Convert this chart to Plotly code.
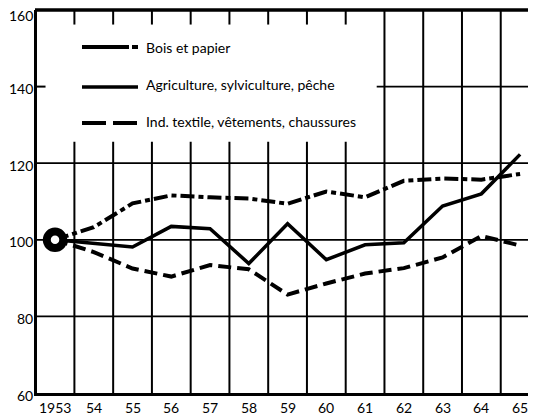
import plotly.graph_objects as go

years = list(range(1953, 1966))
year_labels = ["1953", "54", "55", "56", "57", "58", "59", "60", "61", "62", "63", "64", "65"]

bois = [100, 103.3, 109.5, 111.6, 111.1, 110.8, 109.4, 112.6, 111.1, 115.4, 116.0, 115.7, 117.2]
agri = [100, 99.1, 98.1, 103.5, 102.9, 93.8, 104.2, 94.8, 98.7, 99.2, 108.8, 112.0, 122.3]
textile = [100, 96.8, 92.5, 90.4, 93.4, 92.3, 85.7, 88.6, 91.2, 92.6, 95.4, 101.0, 98.5]

names = ["Bois et papier", "Agriculture, sylviculture, pêche", "Ind. textile, vêtements, chaussures"]

y_ticks = [60, 80, 100, 120, 140, 160]

FONT = "Lato"
XMIN, XMAX = 1952.535, 1965.41
OFF = 8  # page body margin
W, H = 536 - OFF, 416 - OFF
ML, MR, MT, MB = 37 - OFF, 0, 10 - OFF, 416 - 393
PW, PH = W - ML - MR, H - MT - MB

fig = go.Figure()

bois_dash = "14px,4px,5px,4px"
tex_dash = "13px,6px"

fig.add_trace(go.Scatter(x=years, y=bois, mode="lines",
                         line=dict(color="black", width=4, dash=bois_dash), name=names[0]))
fig.add_trace(go.Scatter(x=years, y=agri, mode="lines",
                         line=dict(color="black", width=3.5), name=names[1]))
fig.add_trace(go.Scatter(x=years, y=textile, mode="lines",
                         line=dict(color="black", width=4, dash=tex_dash), name=names[2]))
fig.add_trace(go.Scatter(x=[years[0]], y=[agri[0]], mode="markers",
                         marker=dict(size=16.5, color="white", line=dict(color="black", width=8))))

shapes = []
# vertical grid lines between years
for i in range(len(years) - 1):
    xm = years[i] + 0.5
    if xm < 1961:
        shapes.append(dict(type="line", xref="x", yref="y", x0=xm, x1=xm, y0=156.2, y1=160,
                           line=dict(color="black", width=2), layer="below"))
        shapes.append(dict(type="line", xref="x", yref="y", x0=xm, x1=xm, y0=60, y1=125.6,
                           line=dict(color="black", width=2), layer="below"))
    else:
        shapes.append(dict(type="line", xref="x", yref="y", x0=xm, x1=xm, y0=60, y1=160,
                           line=dict(color="black", width=2), layer="below"))
# horizontal grid lines
for yv in [80, 100, 120]:
    shapes.append(dict(type="line", xref="x", yref="y", x0=XMIN, x1=XMAX, y0=yv, y1=yv,
                       line=dict(color="black", width=1.8), layer="below"))
shapes.append(dict(type="line", xref="x", yref="y", x0=1961.3, x1=XMAX, y0=140, y1=140,
                   line=dict(color="black", width=1.8), layer="below"))
shapes.append(dict(type="line", xref="x", yref="y", x0=XMIN, x1=XMIN + 0.22, y0=140, y1=140,
                   line=dict(color="black", width=2), layer="below"))
# top border
shapes.append(dict(type="line", xref="paper", yref="paper", x0=-0.004, x1=1, y0=1, y1=1,
                   line=dict(color="black", width=3.5), layer="above"))


def py(page_y):
    return 1 - (page_y - OFF - MT) / PH


def px_x(page_x):
    return (page_x - OFF - ML) / PW


annotations = []
# manual legend
leg_rows = [47, 87, 123]
txt_rows = [47, 85, 121]
leg_dash = ["47px,3px,6px,20px", "solid", "24px,7px"]
leg_w = [4, 3.5, 4]
for k in range(3):
    shapes.append(dict(type="line", xref="paper", yref="paper",
                       x0=px_x(82), x1=px_x(138), y0=py(leg_rows[k]), y1=py(leg_rows[k]),
                       line=dict(color="black", width=leg_w[k], dash=leg_dash[k])))
    annotations.append(dict(text=names[k], xref="paper", yref="paper",
                            x=px_x(144), y=py(txt_rows[k]), xanchor="left", yanchor="middle",
                            showarrow=False, font=dict(family=FONT, size=14, color="black")))

# y tick labels
for v in y_ticks:
    annotations.append(dict(text=str(v), xref="paper", yref="y", x=px_x(35), y=v,
                            xanchor="right", yanchor="middle", showarrow=False,
                            yshift=-5 if v == 160 else -2,
                            font=dict(family=FONT, size=14, color="black")))
# x tick labels
for yr, lab in zip(years, year_labels):
    annotations.append(dict(text=lab, xref="x", yref="paper", x=yr, y=py(407),
                            xanchor="center", yanchor="middle", showarrow=False,
                            font=dict(family=FONT, size=14, color="black")))

fig.update_layout(
    template="none",
    width=W, height=H,
    margin=dict(l=ML, r=MR, t=MT, b=MB, autoexpand=False),
    paper_bgcolor="white", plot_bgcolor="white",
    showlegend=False,
    shapes=shapes,
    annotations=annotations,
    font=dict(family=FONT, size=14, color="black"),
    xaxis=dict(range=[XMIN, XMAX], showticklabels=False, automargin=False,
               showgrid=False, zeroline=False, showline=True, linecolor="black", linewidth=3,
               ticks=""),
    yaxis=dict(range=[60, 160], showticklabels=False, automargin=False,
               showgrid=False, zeroline=False, showline=True, linecolor="black", linewidth=3,
               ticks=""),
)

fig.write_html("out.html")
